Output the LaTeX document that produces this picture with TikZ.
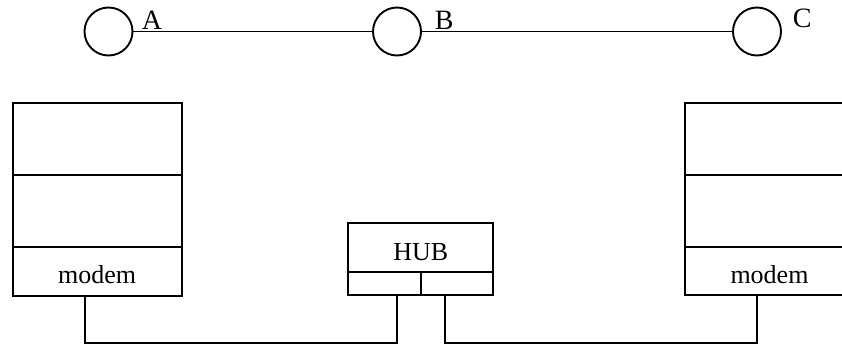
\documentclass[tikz,border=0pt]{standalone}
\usepackage{fontspec}
\setmainfont{Liberation Serif}
\begin{document}
\begin{tikzpicture}[x=1pt, y=-1pt, line width=1.9pt,
  station/.style={circle, draw, minimum size=48pt, inner sep=0pt},
  tag/.style={anchor=base west, inner sep=0pt, font=\fontsize{28}{32}\selectfont},
  txt/.style={anchor=base, inner sep=0pt, font=\fontsize{26}{30}\selectfont},
  panel/.style={draw, rectangle, inner sep=0pt, outer sep=0pt, minimum width=169pt},
  port/.style={draw, rectangle, inner sep=0pt, outer sep=0pt, minimum width=72.5pt, minimum height=23.3pt}
]
\useasboundingbox (0,0) rectangle (842,345);
\clip (0,0) rectangle (842,345);

% stations on the shared line
\node[station] (A) at (108.5,31.5) {};
\node[station] (B) at (397,31.5) {};
\node[station] (C) at (757,31.5) {};
\draw (A) -- (B);
\draw (B) -- (C);
\node[tag] (lblA) at (141,30) {A};
\node[tag] (lblB) at (434,30) {B};
\node[tag] (lblC) at (792,28) {C};

% left computer
\node[panel, minimum height=71.7pt] (ltop) at (97.2,139.2) {};
\node[panel, minimum height=72pt] (lmid) at (97.2,211) {};
\node[panel, minimum height=48.7pt] (lmodem) at (97.2,271.35) {};
\node[txt] (lmodemtxt) at (97.2,283) {modem};

% right computer (runs past the right edge)
\node[panel, minimum height=71.7pt] (rtop) at (769.5,139.2) {};
\node[panel, minimum height=72pt] (rmid) at (769.5,211) {};
\node[panel, minimum height=48pt] (rmodem) at (769.5,271) {};
\node[txt] (rmodemtxt) at (769.5,283) {modem};

% hub with two ports
\node[draw, rectangle, inner sep=0pt, outer sep=0pt, minimum width=145pt, minimum height=48.4pt] (hub) at (420.8,247.5) {};
\node[txt] (hubtxt) at (420.8,260) {HUB};
\node[port] (hubL) at (384.55,283.35) {};
\node[port] (hubR) at (457.05,283.35) {};

% cabling
\draw ([xshift=72.3pt]lmodem.south west) -- ++(0,47.6) -| ([xshift=-24pt]hubL.south east);
\draw ([xshift=24.2pt]hubR.south west) -- ++(0,48.3) -| ([xshift=71.7pt]rmodem.south west);
\end{tikzpicture}
\end{document}
